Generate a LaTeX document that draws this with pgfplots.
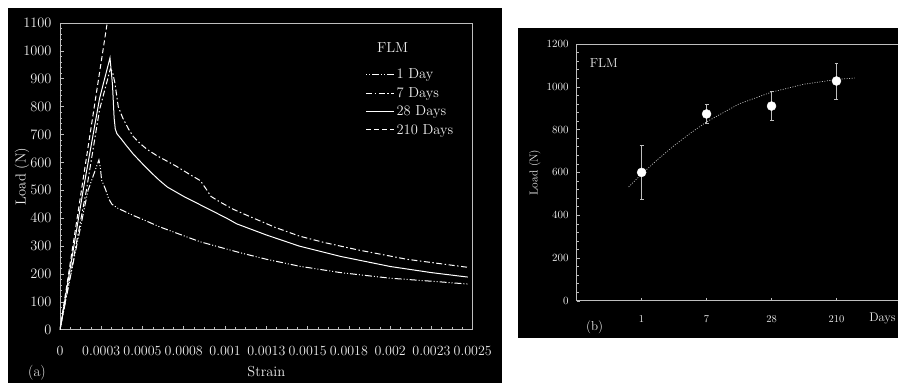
\documentclass[border=0pt]{standalone}
\usepackage{pgfplots}
\pgfplotsset{compat=1.18}
\pgfplotsset{/pgf/number format/1000 sep={}}
\definecolor{axgray}{RGB}{190,190,190}
\definecolor{txt}{RGB}{238,238,238}
\begin{document}
\begin{tikzpicture}[x=1pt,y=1pt]
\fill[white] (0,0) rectangle (899,383);
\fill[black] (8,0) rectangle (502,375);
\fill[black] (518,45) rectangle (899,355);

% ---------- panel (a) ----------
\begin{axis}[at={(60pt,53pt)}, anchor=south west, scale only axis,
  width=413pt, height=307pt,
  xmin=0, xmax=0.0025, ymin=0, ymax=1100,
  scaled x ticks=false,
  xtick={0,0.00025,0.0005,0.00075,0.001,0.00125,0.0015,0.00175,0.002,0.00225,0.0025},
  xticklabels={0,0.0003,0.0005,0.0008,0.001,0.0013,0.0015,0.0018,0.002,0.0023,0.0025},
  ytick={0,100,...,1100},
  minor x tick num=3, minor y tick num=4,
  tick align=inside, xtick pos=bottom, ytick pos=left,
  axis line style={axgray, line width=0.8pt},
  tick style={axgray, line width=0.6pt},
  major tick length=4pt, minor tick length=2.5pt,
  ticklabel style={font=\fontsize{14}{14}\selectfont, text=txt},
  xticklabel shift=13pt, yticklabel shift=5pt,
  xlabel={Strain}, ylabel={Load (N)},
  label style={font=\fontsize{14.5}{14.5}\selectfont, text=txt},
  xlabel style={at={(axis description cs:0.5,-0.137)}, anchor=center},
  ylabel style={at={(axis description cs:-0.092,0.5)}, anchor=center},
  legend image code/.code={\draw[#1] (0pt,0pt) -- (28pt,0pt);},
  legend cell align=left,
  legend style={draw=none, fill=black, text=txt, inner sep=0pt,
    font=\fontsize{14.5}{14.5}\selectfont, row sep=3pt,
    at={(0.74,0.857)}, anchor=north west},
  every axis plot/.append style={white, line width=1pt},
]
\addplot[dash pattern=on 1pt off 2pt on 1pt off 2pt on 7pt off 2pt] coordinates {
(0,0) (0.00008,240) (0.00017,500) (0.000236,609) (0.000245,580) (0.000252,537)
(0.000275,505) (0.000295,470) (0.000315,450) (0.00035,436) (0.0004,422)
(0.000444,410) (0.0005,396) (0.0006,370) (0.0007,348)
(0.000847,316) (0.001,291) (0.0011,275) (0.00125,253) (0.00145,228) (0.0017,205) (0.002,185)
(0.0023,172) (0.00247,164)};
\addlegendentry{1 Day}
\addplot[dash pattern=on 6pt off 2.5pt on 1.5pt off 2.5pt] coordinates {
(0,0) (0.00016,500) (0.00024,790) (0.000305,935) (0.000318,925) (0.000333,884)
(0.000353,800) (0.00038,760) (0.000415,720) (0.000444,693) (0.000485,668) (0.000525,648) (0.000585,625)
(0.0007,588) (0.0008,552) (0.00085,535) (0.000885,505) (0.000915,478) (0.00097,458) (0.00105,432) (0.00115,406)
(0.0013,368) (0.00145,336) (0.0016,313) (0.0018,287) (0.0021,253) (0.00247,224)};
\addlegendentry{7 Days}
\addplot[solid] coordinates {
(0,0) (0.000141,502) (0.00024,830) (0.000303,975) (0.000318,880)
(0.000328,760) (0.000335,720) (0.000345,703) (0.00037,685) (0.0004,662) (0.000444,630) (0.0005,595) (0.00055,565)
(0.0006,537) (0.00065,512) (0.00075,478) (0.00085,448) (0.00095,418) (0.00101,400) (0.00107,380) (0.00125,340)
(0.00145,300) (0.0017,263) (0.002,227) (0.00225,205) (0.00247,189)};
\addlegendentry{28 Days}
\addplot[dash pattern=on 5pt off 3pt] coordinates {(0,0) (0.000286,1100)};
\addlegendentry{210 Days}
\node[text=txt, font=\fontsize{14.5}{14.5}\selectfont] at (rel axis cs:0.806,0.919) {FLM};
\end{axis}

% ---------- panel (b) ----------
\begin{axis}[at={(577pt,82pt)}, anchor=south west, scale only axis,
  width=322pt, height=257pt,
  xmin=0, xmax=4.954, ymin=0, ymax=1200,
  axis lines*=left,
  xtick={1,2,3,4}, xticklabels={1,7,28,210},
  ytick={0,200,...,1200}, minor y tick num=4,
  tick align=inside,
  axis line style={axgray, line width=0.8pt},
  tick style={axgray, line width=0.5pt},
  major tick length=3pt, minor tick length=2.5pt,
  ticklabel style={font=\fontsize{10.5}{10.5}\selectfont, text=txt},
  xticklabel shift=11pt, yticklabel shift=4.5pt,
  ylabel={Load (N)},
  label style={font=\fontsize{11.5}{11.5}\selectfont, text=txt},
  ylabel style={at={(axis description cs:-0.13,0.5)}, anchor=center},
]
\addplot[axgray, line width=0.7pt, dash pattern=on 1pt off 1.5pt] coordinates {
(0.8,532) (1,592) (1.25,661) (1.5,725) (1.75,783) (2,836) (2.5,920)
(3,975) (3.5,1012) (4,1034) (4.28,1041)};
\addplot[only marks, mark=*, mark size=4.5pt, white,
  error bars/.cd, y dir=both, y explicit,
  error bar style={axgray, line width=0.7pt},
  error mark options={axgray, mark size=2pt, rotate=90}] coordinates {
(1,600) +- (0,125)
(2,873) +- (0,45)
(3,910) +- (0,68)
(4,1027) +- (0,84)};
\draw[axgray, line width=0.8pt] (rel axis cs:0,1) -- (rel axis cs:1,1);
\node[text=txt, font=\fontsize{13}{13}\selectfont, anchor=west] at (rel axis cs:0.03,0.925) {FLM};
\end{axis}

\node[text=txt, font=\fontsize{15}{15}\selectfont] at (37,10) {(a)};
\node[text=txt, font=\fontsize{13}{13}\selectfont] at (595,56) {(b)};
\node[text=txt, font=\fontsize{12.5}{12.5}\selectfont] at (883,64) {Days};
\end{tikzpicture}
\end{document}
